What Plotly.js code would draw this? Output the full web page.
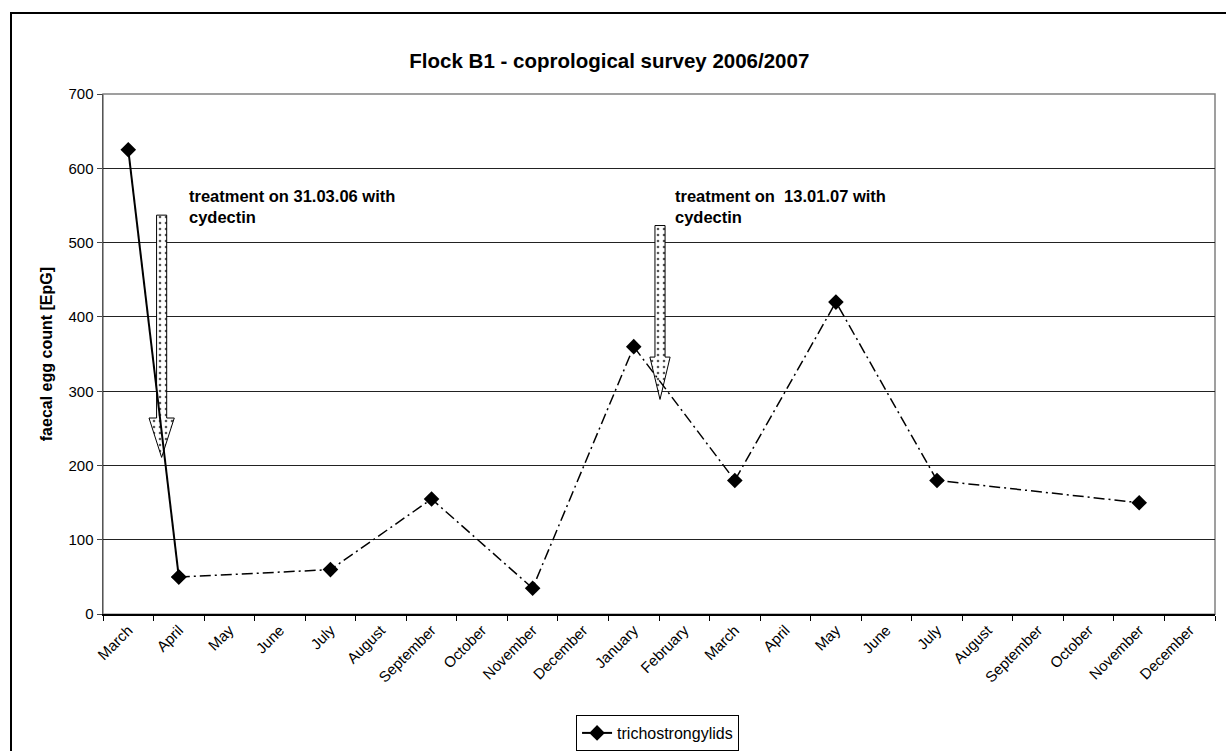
<!DOCTYPE html>
<html>
<head>
<meta charset="utf-8">
<script src="https://cdn.plot.ly/plotly-3.0.1.min.js"></script>
<style>
  html, body { margin: 0; padding: 0; background: #fff; overflow: hidden; }
  #chart { width: 1226px; height: 751px; }
  #frame {
    position: absolute; left: 10px; top: 12px; width: 1400px; height: 900px;
    border-left: 2px solid #000; border-top: 2px solid #000;
    pointer-events: none;
  }
</style>
</head>
<body>
<div id="chart"></div>
<div id="frame"></div>
<script>
// Sampling months, March 2006 through December 2007
const months = [
  "March", "April", "May", "June", "July", "August", "September", "October",
  "November", "December", "January", "February", "March", "April", "May",
  "June", "July", "August", "September", "October", "November", "December"
];

// Faecal egg counts (EpG) for trichostrongylids; null = month not sampled
const eggCount = [
  625, 50, null, null, 60, null, 155, null, 35, null, 360,
  null, 180, null, 420, null, 180, null, null, null, 150, null
];

// Treatment notes
const treatmentLabels = [
  "treatment on 31.03.06 with<br>cydectin",
  "treatment on &nbsp;13.01.07 with<br>cydectin"
];

const FONT = '"Liberation Sans", Arial, sans-serif';
const idx = months.map((_, i) => i);

// Arrow geometry (category units / EpG units)
const arrows = [
  { x: 0.66, top: 537, neck: 264, tip: 211, shaft: 0.1, head: 0.25 },
  { x: 10.52, top: 523, neck: 346, tip: 289, shaft: 0.1, head: 0.2 }
];
const arrowTraces = arrows.map(a => ({
  type: "scatter", mode: "lines",
  x: [a.x - a.shaft, a.x + a.shaft, a.x + a.shaft, a.x + a.head, a.x, a.x - a.head, a.x - a.shaft, a.x - a.shaft],
  y: [a.top, a.top, a.neck, a.neck, a.tip, a.neck, a.neck, a.top],
  fill: "toself",
  fillcolor: "#ffffff",
  fillpattern: { shape: ".", fgcolor: "#555555", bgcolor: "#ffffff", size: 6, solidity: 0.15 },
  line: { color: "#000", width: 1 },
  hoverinfo: "skip", showlegend: false
}));

// First interval (before treatment) drawn solid, the rest dash-dot
const firstX = idx.slice(0, 2);
const firstY = eggCount.slice(0, 2);
const restX = idx.slice(1);
const restY = eggCount.slice(1);

const marker = { symbol: "diamond", size: 12, color: "#000" };

const traces = arrowTraces.concat([
  {
    type: "scatter", mode: "lines+markers", name: "trichostrongylids",
    x: restX, y: restY, connectgaps: true,
    line: { color: "#000", width: 1.5, dash: "11px,4px,2px,4px" },
    marker: marker, showlegend: false
  },
  {
    type: "scatter", mode: "lines+markers", name: "trichostrongylids",
    x: firstX, y: firstY,
    line: { color: "#000", width: 2 },
    marker: marker
  }
]);

// Plot area spans 94px..615px vertically; the space below holds labels and legend
const H = 751, TOP = 94, BOTTOM_PX = 615;
const areaH = H - TOP;

const layout = {
  width: 1226, height: H,
  margin: { l: 103, r: 11, t: TOP, b: 0 },
  paper_bgcolor: "#fff", plot_bgcolor: "#fff",
  font: { family: FONT, color: "#000", size: 15 },
  title: {
    text: "<b>Flock B1 - coprological survey 2006/2007</b>",
    font: { family: FONT, size: 20.5, color: "#000" },
    x: 0.497, xref: "container", xanchor: "center",
    y: 0.919, yref: "container", yanchor: "middle"
  },
  xaxis: {
    range: [-0.5, 21.5], tickmode: "array", tickvals: idx, ticktext: months,
    tickangle: -45, ticks: "", showgrid: false, zeroline: false, automargin: false,
    showline: true, linecolor: "#000", linewidth: 1.5,
    tickfont: { family: FONT, size: 15, color: "#000" },
    minor: { tickmode: "linear", tick0: -0.5, dtick: 1, ticks: "outside", ticklen: 5, tickcolor: "#000", tickwidth: 1, showgrid: false }
  },
  yaxis: {
    domain: [(H - BOTTOM_PX) / areaH, 1],
    range: [0, 700], dtick: 100, ticks: "outside", ticklen: 5, tickcolor: "#444",
    showgrid: true, gridcolor: "#222", gridwidth: 1, zeroline: false, automargin: false,
    showline: true, linecolor: "#555", linewidth: 1.5,
    tickfont: { family: FONT, size: 15, color: "#000" },
    title: { text: "<b>faecal egg count [EpG]</b>", font: { family: FONT, size: 16, color: "#000" }, standoff: 12 }
  },
  shapes: [
    { type: "rect", xref: "x domain", yref: "y domain", x0: 0, x1: 1, y0: 0, y1: 1,
      line: { color: "#808080", width: 1.5 }, layer: "below" }
  ],
  annotations: [
    { text: "<b>" + treatmentLabels[0] + "</b>", x: 1.16, y: 549, xref: "x", yref: "y",
      xanchor: "left", yanchor: "middle", align: "left", showarrow: false,
      font: { family: FONT, size: 16.5, color: "#000" } },
    { text: "<b>" + treatmentLabels[1] + "</b>", x: 10.78, y: 549, xref: "x", yref: "y",
      xanchor: "left", yanchor: "middle", align: "left", showarrow: false,
      font: { family: FONT, size: 16.5, color: "#000" } }
  ],
  legend: {
    x: 0.4987, xanchor: "center", y: (H - 716) / areaH, yanchor: "top",
    orientation: "h", bordercolor: "#000", borderwidth: 1, bgcolor: "#fff",
    font: { family: FONT, size: 16, color: "#000" }
  },
  showlegend: true
};

Plotly.newPlot("chart", traces, layout, { displayModeBar: false, staticPlot: true });
</script>
</body>
</html>
